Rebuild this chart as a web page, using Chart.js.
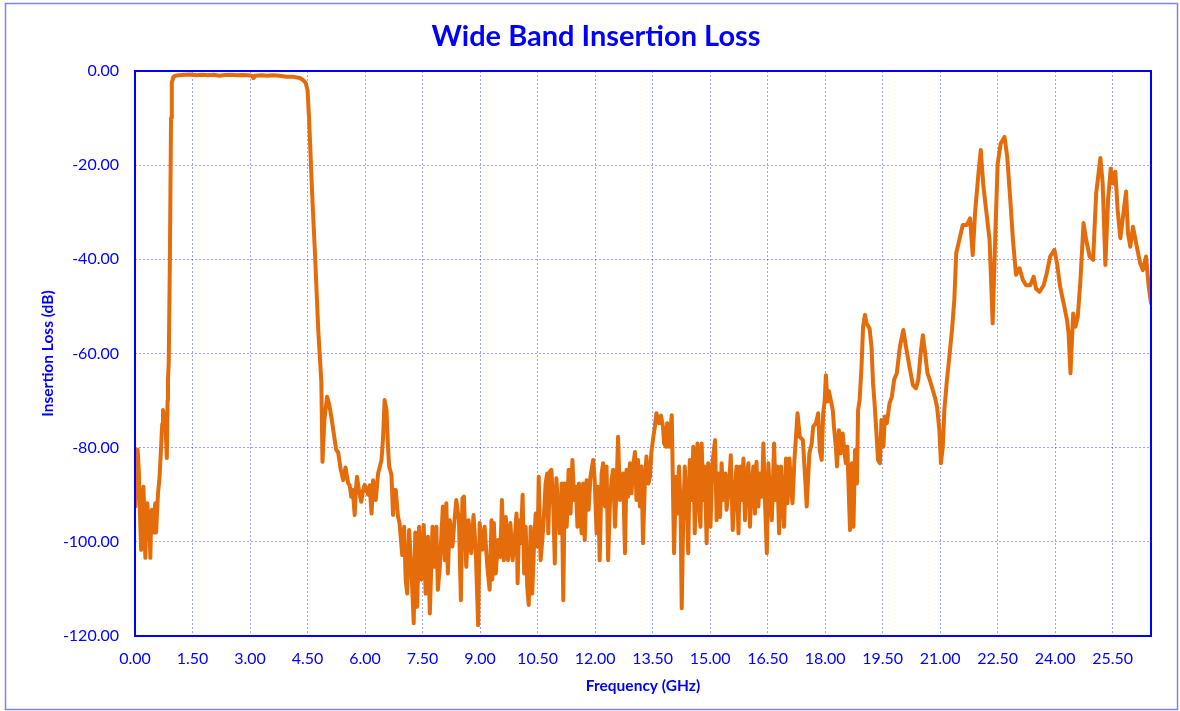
<!DOCTYPE html>
<html>
<head>
<meta charset="utf-8">
<title>Wide Band Insertion Loss</title>
<script src="https://cdn.jsdelivr.net/npm/chart.js@4/dist/chart.umd.min.js"></script>
<style>
  html, body { margin: 0; padding: 0; background: #ffffff; }
  #wrap { position: relative; width: 1180px; height: 711px; }
</style>
</head>
<body>
<div id="wrap"><canvas id="chartInsertionLoss"></canvas></div>
<script>
// frequency (GHz) and insertion loss (dB)
var freqGHz = [
  0.00, 0.01, 0.04, 0.07, 0.10, 0.13, 0.16, 0.19, 0.22, 0.25,
  0.27, 0.30, 0.32, 0.35, 0.38, 0.40, 0.42, 0.44, 0.48, 0.50,
  0.53, 0.55, 0.58, 0.60, 0.64, 0.68, 0.71, 0.73, 0.76, 0.79,
  0.81, 0.83, 0.85, 0.86, 0.88, 0.91, 0.94, 0.96, 1.00, 1.05,
  1.15, 1.30, 1.45, 1.60, 1.75, 1.90, 2.05, 2.20, 2.35, 2.50,
  2.65, 2.80, 2.95, 3.05, 3.09, 3.13, 3.30, 3.45, 3.60, 3.77,
  3.95, 4.10, 4.21, 4.30, 4.38, 4.45, 4.50, 4.54, 4.58, 4.62,
  4.69, 4.78, 4.86, 4.89, 4.94, 5.01, 5.07, 5.12, 5.21, 5.25,
  5.30, 5.36, 5.43, 5.49, 5.56, 5.60, 5.64, 5.68, 5.73, 5.76,
  5.79, 5.84, 5.90, 5.95, 5.99, 6.04, 6.08, 6.12, 6.17, 6.21,
  6.28, 6.34, 6.43, 6.47, 6.51, 6.56, 6.60, 6.63, 6.69, 6.73,
  6.76, 6.80, 6.86, 6.90, 6.97, 7.02, 7.06, 7.10, 7.15, 7.21,
  7.27, 7.31, 7.36, 7.41, 7.47, 7.53, 7.58, 7.64, 7.69, 7.76,
  7.82, 7.86, 7.90, 7.95, 8.03, 8.08, 8.12, 8.16, 8.21, 8.28,
  8.32, 8.38, 8.45, 8.50, 8.54, 8.58, 8.64, 8.70, 8.77, 8.83,
  8.89, 8.95, 8.99, 9.06, 9.12, 9.19, 9.25, 9.30, 9.32, 9.36,
  9.41, 9.47, 9.53, 9.57, 9.62, 9.67, 9.73, 9.79, 9.85, 9.91,
  9.95, 9.98, 10.02, 10.06, 10.11, 10.15, 10.19, 10.23, 10.27, 10.32,
  10.36, 10.41, 10.45, 10.50, 10.53, 10.58, 10.63, 10.66, 10.71, 10.75,
  10.78, 10.82, 10.86, 10.91, 10.95, 10.99, 11.04, 11.08, 11.13, 11.17,
  11.21, 11.26, 11.31, 11.36, 11.41, 11.45, 11.50, 11.54, 11.58, 11.65,
  11.69, 11.73, 11.78, 11.83, 11.88, 11.95, 11.99, 12.04, 12.08, 12.12,
  12.17, 12.21, 12.26, 12.30, 12.34, 12.39, 12.43, 12.47, 12.52, 12.56,
  12.60, 12.65, 12.70, 12.73, 12.78, 12.82, 12.86, 12.91, 12.95, 12.99,
  13.04, 13.08, 13.12, 13.17, 13.21, 13.25, 13.30, 13.34, 13.39, 13.43,
  13.47, 13.52, 13.56, 13.60, 13.67, 13.72, 13.77, 13.80, 13.85, 13.88,
  13.93, 14.00, 14.06, 14.11, 14.15, 14.19, 14.23, 14.26, 14.30, 14.34,
  14.39, 14.43, 14.47, 14.52, 14.56, 14.60, 14.65, 14.67, 14.71, 14.75,
  14.78, 14.82, 14.86, 14.91, 14.95, 15.01, 15.06, 15.13, 15.17, 15.21,
  15.26, 15.30, 15.34, 15.40, 15.43, 15.49, 15.54, 15.59, 15.64, 15.69,
  15.74, 15.78, 15.82, 15.87, 15.91, 15.95, 16.00, 16.04, 16.08, 16.13,
  16.17, 16.21, 16.26, 16.30, 16.35, 16.39, 16.43, 16.48, 16.52, 16.56,
  16.61, 16.67, 16.71, 16.75, 16.80, 16.85, 16.89, 16.93, 16.98, 17.02,
  17.07, 17.11, 17.15, 17.20, 17.24, 17.28, 17.34, 17.42, 17.48, 17.52,
  17.59, 17.65, 17.69, 17.76, 17.82, 17.86, 17.91, 17.95, 17.99, 18.02,
  18.06, 18.10, 18.15, 18.20, 18.23, 18.28, 18.31, 18.36, 18.41, 18.46,
  18.49, 18.54, 18.58, 18.61, 18.65, 18.70, 18.74, 18.78, 18.83, 18.86,
  18.90, 18.95, 18.99, 19.04, 19.08, 19.16, 19.21, 19.25, 19.29, 19.34,
  19.38, 19.43, 19.47, 19.52, 19.56, 19.61, 19.68, 19.74, 19.80, 19.87,
  19.95, 20.04, 20.11, 20.20, 20.29, 20.37, 20.43, 20.50, 20.55, 20.61,
  20.67, 20.73, 20.81, 20.86, 20.92, 20.98, 21.02, 21.07, 21.11, 21.17,
  21.24, 21.31, 21.37, 21.42, 21.48, 21.59, 21.70, 21.78, 21.85, 21.91,
  22.00, 22.06, 22.13, 22.20, 22.29, 22.37, 22.44, 22.50, 22.58, 22.68,
  22.75, 22.83, 22.90, 22.98, 23.07, 23.16, 23.24, 23.35, 23.44, 23.50,
  23.59, 23.70, 23.78, 23.87, 23.98, 24.05, 24.13, 24.22, 24.31, 24.35,
  24.40, 24.47, 24.53, 24.59, 24.66, 24.74, 24.81, 24.90, 24.99, 25.07,
  25.18, 25.24, 25.31, 25.38, 25.45, 25.51, 25.57, 25.63, 25.70, 25.77,
  25.85, 25.90, 25.96, 26.03, 26.13, 26.22, 26.29, 26.37, 26.44, 26.50
];

var lossDb = [
  -83, -92.5, -82, -80.4, -85, -94, -101.7, -92, -88.3, -96,
  -103.4, -94, -91.8, -95, -97, -103.4, -96, -93.2, -98, -94,
  -91.8, -98, -93, -89.7, -86.3, -80, -75, -72, -75.5, -72.7,
  -78, -82.2, -70, -65.6, -62, -40, -10, -2.5, -1.3, -1.0,
  -0.9, -0.8, -0.75, -0.9, -0.8, -0.9, -0.8, -1.0, -0.85, -0.8,
  -0.9, -0.85, -0.9, -1.0, -1.5, -1.0, -0.9, -1.0, -0.9, -1.0,
  -1.2, -1.2, -1.35, -1.5, -1.9, -2.5, -4, -10, -18, -26,
  -38, -55, -66, -83, -74, -69.2, -71, -73.4, -78.4, -80.5,
  -81, -84.4, -86.9, -84.2, -87.6, -88, -90.4, -89, -94.3, -89,
  -86.2, -89, -91.5, -89, -87.9, -89, -90, -88, -94, -86.9,
  -91.1, -85.5, -82.6, -78, -69.9, -72, -80, -84, -85.8, -94.3,
  -89, -89, -94.7, -96, -102.8, -96.8, -108, -111, -97.5, -106,
  -117.3, -98, -113.8, -96.8, -108, -96.4, -111, -98.9, -115.2, -96.8,
  -105.3, -96.8, -110.2, -105.3, -92.5, -103.9, -91.8, -106.7, -95.4, -101,
  -96.8, -91.1, -95.4, -112.4, -90.8, -90.4, -105.3, -95.4, -102.4, -94.3,
  -102.4, -117.7, -96, -101.7, -96.8, -105.3, -110.2, -95.4, -108, -96,
  -106.7, -99.6, -103.2, -91.1, -103.9, -94.7, -103.9, -96, -103.9, -98.9,
  -94, -108.8, -95.4, -100.3, -90, -106.7, -96.8, -109.5, -113.4, -96.8,
  -111, -100.3, -94, -101, -86.2, -103.9, -98.9, -95.4, -87.6, -85.5,
  -98.2, -85.1, -84.7, -92.5, -104.6, -86.5, -93.2, -98.2, -87.6, -112.4,
  -87.6, -96.8, -84.7, -94, -82.6, -91.1, -88.3, -96.8, -87.6, -98.2,
  -87.6, -99.6, -86.9, -93.2, -86.2, -82.6, -86.9, -98.2, -88.3, -103.9,
  -85.5, -83.3, -92.5, -84, -103.9, -91.1, -86.9, -84.7, -96.8, -88.3,
  -77.7, -91.1, -87.6, -85.5, -102.4, -84.7, -90.4, -83.3, -89.7, -84,
  -80.9, -91.1, -82.6, -92.5, -84, -100.3, -86.9, -81.9, -87.6, -86.2,
  -80.9, -77.7, -75.5, -72.7, -74.8, -73.2, -75.5, -79.1, -79.8, -74.8,
  -79.8, -73.1, -102.4, -86.2, -94, -84, -92.5, -114.1, -94.7, -84,
  -91.1, -102.4, -82.6, -91.1, -79.8, -98.2, -84, -79.1, -92.5, -96.8,
  -79.1, -91.1, -84, -100.3, -83.3, -96.8, -83.3, -78.4, -95.4, -85.5,
  -94.7, -83.3, -91.1, -85.5, -93.2, -88.3, -81.6, -97.5, -89.7, -84,
  -98.2, -84, -91.1, -82.3, -95.4, -86.2, -83.3, -96.8, -88.3, -84,
  -94, -83, -92.5, -85.5, -90.4, -79.1, -91.1, -102.4, -83.3, -89.7,
  -95.4, -79.1, -91.1, -84, -98.2, -84, -91.1, -96.8, -82.3, -91.8,
  -82.3, -88.3, -91.8, -82.6, -77.7, -72.7, -77.7, -78.4, -86.5, -92.5,
  -81.2, -79.1, -75.5, -74.8, -72.7, -80.5, -82.6, -72.7, -69.9, -64.6,
  -70.2, -68, -70, -72, -75.5, -79.8, -84, -76.3, -81.2, -77,
  -79.8, -83.3, -79.8, -87.6, -97.5, -83.3, -96.8, -80.5, -87.6, -72,
  -69.9, -62.8, -54.3, -51.8, -53.6, -54.7, -58.6, -66.3, -70.6, -77,
  -82.6, -83.3, -74.1, -79.8, -73.4, -74.8, -70.6, -69.2, -65.6, -64.2,
  -58.6, -55, -58.6, -62.8, -66.7, -67.4, -65.6, -59.3, -56.1, -60,
  -64.2, -65.6, -67.8, -69.2, -71.3, -76.3, -83.3, -79.8, -72, -66.3,
  -60.7, -55, -48.6, -38.7, -36.6, -32.7, -32.7, -31.3, -39.1, -30.2,
  -21.7, -16.8, -24.6, -29.5, -35.9, -53.6, -34.5, -19.8, -15.4, -14,
  -18.2, -27.4, -35.9, -43.3, -41.9, -44.4, -45.5, -45.5, -43.7, -46.2,
  -46.9, -45.5, -43, -39.4, -38, -40.9, -45.8, -49.3, -52.9, -55.7,
  -64.2, -51.5, -54.3, -52.2, -44.4, -32.3, -35.9, -39.4, -40.1, -26,
  -18.5, -23.9, -41.2, -27.4, -20.7, -23.9, -21.4, -29.5, -35.5, -30.9,
  -25.6, -34.5, -37.3, -33.1, -37.3, -40.9, -42.3, -39.4, -45.8, -49.3
];

var xRange = [0, 26.5];
var yRange = [-120, 0];
var xTickStep = 1.5;
var yTickStep = 20;

var axisBlue = '#0000FF';
var gridBlue = 'rgba(40,40,255,0.45)';
var lineOrange = '#E46C0A';

Chart.defaults.font.family = 'Lato, "Open Sans", sans-serif';

// outer border of the whole chart and the blue box round the plot area
var frameBoxes = {
  id: 'frameBoxes',
  beforeDraw: function (chart) {
    var ctx = chart.ctx;
    ctx.save();
    ctx.fillStyle = '#ffffff';
    ctx.fillRect(0, 0, chart.width, chart.height);
    ctx.strokeStyle = '#8080FF';
    ctx.lineWidth = 1.5;
    ctx.strokeRect(5.5, 3.5, chart.width - 8, chart.height - 5);
    ctx.restore();
  },
  afterDatasetsDraw: function (chart) {
    var a = chart.chartArea;
    var ctx = chart.ctx;
    ctx.save();
    ctx.strokeStyle = axisBlue;
    ctx.lineWidth = 2;
    ctx.strokeRect(a.left, a.top, a.right - a.left, a.bottom - a.top);
    ctx.restore();
  }
};

function buildPoints() {
  var pts = [];
  for (var i = 0; i < freqGHz.length; i++) {
    pts.push({ x: freqGHz[i], y: lossDb[i] });
  }
  return pts;
}

function renderInsertionLossChart() {
  var el = document.getElementById('chartInsertionLoss');
  if (!el) return;
  new Chart(el, {
    type: 'line',
    data: {
      datasets: [{
        label: 'Insertion Loss',
        data: buildPoints(),
        borderColor: lineOrange,
        borderWidth: 4,
        pointRadius: 0,
        tension: 0,
        borderJoinStyle: 'round',
        borderCapStyle: 'round'
      }]
    },
    options: {
      responsive: true,
      maintainAspectRatio: false,
      animation: false,
      layout: {
        padding: { left: 41, right: 29, top: 0, bottom: 0 }
      },
      plugins: {
        legend: { display: false },
        tooltip: { enabled: false },
        title: {
          display: true,
          text: 'Wide Band Insertion Loss',
          color: axisBlue,
          font: { size: 29, weight: 'bold', lineHeight: 1.2 },
          padding: { top: 19.6, bottom: 16.6 }
        }
      },
      scales: {
        x: {
          type: 'linear',
          min: xRange[0],
          max: xRange[1],
          afterFit: function (scale) { scale.height = 75; },
          border: { display: false, dash: [2, 2] },
          grid: {
            color: gridBlue,
            lineWidth: 1,
            drawTicks: false
          },
          ticks: {
            stepSize: xTickStep,
            includeBounds: false,
            autoSkip: false,
            maxRotation: 0,
            padding: 13,
            color: axisBlue,
            font: { size: 16 },
            callback: function (value) { return Number(value).toFixed(2); }
          },
          title: {
            display: true,
            text: 'Frequency (GHz)',
            color: axisBlue,
            font: { size: 15.5, weight: 'bold', lineHeight: 1.2 },
            padding: { top: 0, bottom: 15.7 }
          }
        },
        y: {
          min: yRange[0],
          max: yRange[1],
          afterFit: function (scale) { scale.width = 94; },
          border: { display: false, dash: [2, 2] },
          grid: {
            color: gridBlue,
            lineWidth: 1,
            drawTicks: false
          },
          ticks: {
            stepSize: yTickStep,
            padding: 16,
            color: axisBlue,
            font: { size: 16 },
            callback: function (value) { return Number(value).toFixed(2); }
          },
          title: {
            display: true,
            text: 'Insertion Loss (dB)',
            color: axisBlue,
            font: { size: 15.5, weight: 'bold', lineHeight: 0.9 },
            padding: 0
          }
        }
      }
    },
    plugins: [frameBoxes]
  });
}

renderInsertionLossChart();
</script>
</body>
</html>
